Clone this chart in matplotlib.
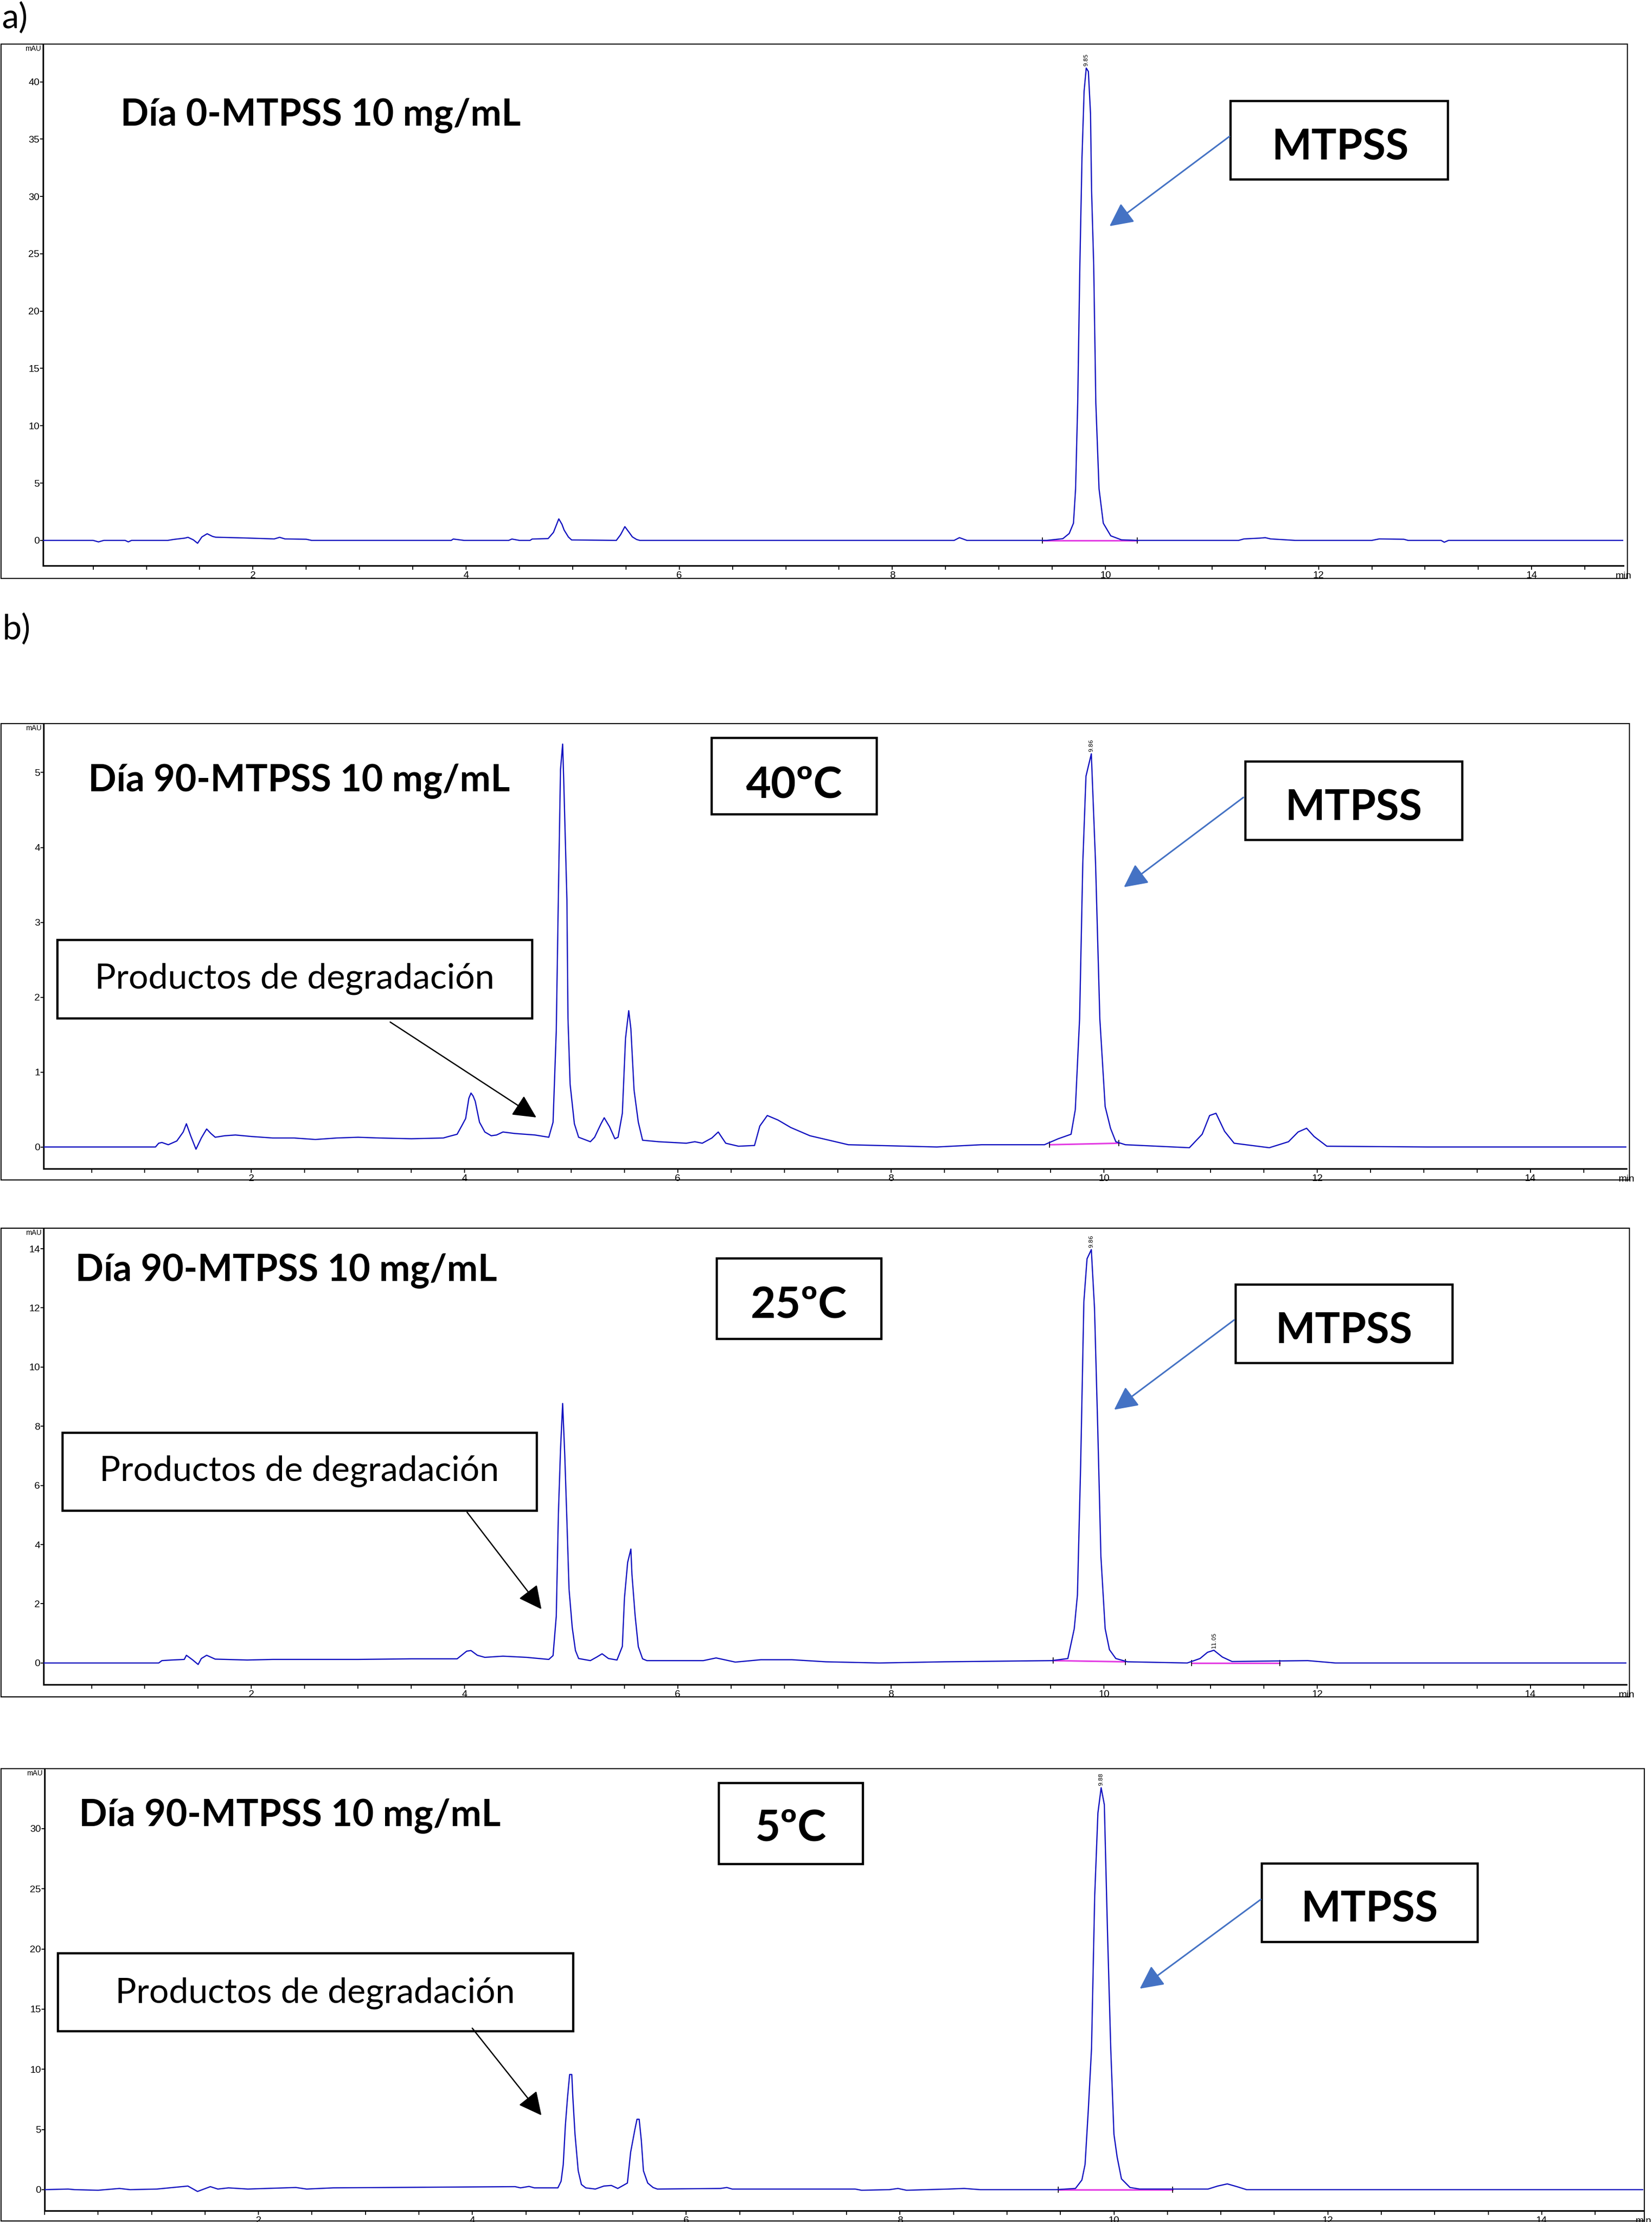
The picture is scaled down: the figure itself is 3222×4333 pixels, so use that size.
import matplotlib
matplotlib.use("Agg")
import matplotlib.pyplot as plt
from matplotlib.patches import Rectangle, FancyArrowPatch
from matplotlib.ticker import MultipleLocator

plt.rcParams['font.family'] = ['Lato', 'DejaVu Sans']

time_a = [0.03, 0.50, 0.55, 0.60, 0.80, 0.83, 0.86, 1.20, 1.26, 1.36, 1.39, 1.44, 1.48, 1.52,
          1.57, 1.62, 1.65, 1.90, 2.20, 2.25, 2.30, 2.50, 2.55, 3.86, 3.88, 3.98, 4.40, 4.43,
          4.50, 4.60, 4.62, 4.77, 4.82, 4.87, 4.90, 4.92, 4.96, 4.99, 5.41, 5.45, 5.49, 5.53,
          5.56, 5.60, 5.63, 8.58, 8.63, 8.70, 9.45, 9.60, 9.66, 9.70, 9.72, 9.74, 9.76, 9.78,
          9.80, 9.82, 9.84, 9.86, 9.87, 9.89, 9.91, 9.94, 9.98, 10.05, 10.15, 10.30, 11.25,
          11.30, 11.45, 11.50, 11.55, 11.78, 12.50, 12.57, 12.80, 12.84, 13.15, 13.18, 13.22, 14.86]
mau_a = [0.0, 0.0, -0.13, 0.0, 0.0, -0.13, 0.0, 0.0, 0.09, 0.2, 0.27, 0.05, -0.25, 0.3,
         0.58, 0.35, 0.28, 0.22, 0.13, 0.27, 0.13, 0.1, 0.0, 0.0, 0.12, 0.0, 0.0, 0.12,
         0.0, 0.0, 0.12, 0.16, 0.7, 1.88, 1.4, 0.9, 0.3, 0.04, 0.0, 0.5, 1.2, 0.7,
         0.31, 0.08, 0.0, 0.0, 0.24, 0.0, 0.0, 0.15, 0.6, 1.5, 4.5, 12.0, 24.0, 33.4,
         39.2, 41.2, 40.9, 37.2, 30.5, 24.0, 12.0, 4.5, 1.5, 0.4, 0.05, 0.0, 0.0,
         0.13, 0.2, 0.24, 0.13, 0.0, 0.0, 0.13, 0.1, 0.0, 0.0, -0.16, 0.0, 0.0]

time_40 = [0.05, 1.10, 1.13, 1.16, 1.22, 1.30, 1.36, 1.39, 1.43, 1.48, 1.53, 1.58, 1.62, 1.66,
           1.75, 1.85, 2.00, 2.20, 2.40, 2.60, 2.80, 3.00, 3.20, 3.50, 3.80, 3.85, 3.93, 3.98,
           4.01, 4.04, 4.06, 4.08, 4.10, 4.14, 4.19, 4.25, 4.30, 4.36, 4.47, 4.66, 4.79, 4.83,
           4.86, 4.88, 4.90, 4.92, 4.93, 4.96, 4.97, 4.99, 5.03, 5.07, 5.18, 5.22, 5.28, 5.31,
           5.36, 5.41, 5.44, 5.48, 5.51, 5.54, 5.56, 5.59, 5.63, 5.67, 5.82, 6.08, 6.16, 6.23,
           6.32, 6.38, 6.45, 6.57, 6.72, 6.77, 6.84, 6.94, 7.06, 7.24, 7.42, 7.60, 8.43, 8.85,
           9.44, 9.57, 9.69, 9.73, 9.77, 9.80, 9.83, 9.88, 9.92, 9.96, 10.01, 10.06, 10.11,
           10.20, 10.80, 10.92, 10.99, 11.05, 11.13, 11.22, 11.55, 11.73, 11.82, 11.90, 11.97,
           12.09, 13.03, 14.90]
mau_40 = [0.0, 0.0, 0.05, 0.06, 0.03, 0.08, 0.2, 0.31, 0.15, -0.03, 0.12, 0.24, 0.18, 0.13,
          0.15, 0.16, 0.14, 0.12, 0.12, 0.1, 0.12, 0.13, 0.12, 0.11, 0.12, 0.14, 0.17, 0.3,
          0.38, 0.65, 0.72, 0.68, 0.61, 0.33, 0.2, 0.15, 0.16, 0.2, 0.18, 0.16, 0.13, 0.33,
          1.55, 3.37, 5.04, 5.38, 4.9, 3.3, 1.72, 0.84, 0.31, 0.13, 0.07, 0.13, 0.31, 0.39,
          0.27, 0.11, 0.13, 0.45, 1.45, 1.82, 1.58, 0.76, 0.33, 0.09, 0.07, 0.05, 0.07, 0.05,
          0.12, 0.2, 0.05, 0.01, 0.02, 0.28, 0.42, 0.36, 0.26, 0.15, 0.09, 0.03, 0.0, 0.03,
          0.03, 0.11, 0.17, 0.5, 1.71, 3.79, 4.95, 5.25, 3.79, 1.71, 0.54, 0.25, 0.07,
          0.03, -0.01, 0.17, 0.42, 0.45, 0.21, 0.05, -0.01, 0.07, 0.2, 0.25, 0.14,
          0.01, 0.0, 0.0]

time_25 = [0.05, 1.13, 1.16, 1.25, 1.37, 1.39, 1.45, 1.50, 1.53, 1.58, 1.66, 1.96, 2.20, 3.00,
           3.50, 3.93, 4.02, 4.06, 4.12, 4.19, 4.36, 4.58, 4.79, 4.83, 4.86, 4.88, 4.90, 4.92,
           4.94, 4.96, 4.98, 5.01, 5.04, 5.07, 5.18, 5.24, 5.29, 5.35, 5.43, 5.48, 5.50, 5.53,
           5.56, 5.57, 5.60, 5.63, 5.67, 5.71, 6.24, 6.36, 6.54, 6.78, 7.07, 7.39, 7.89, 8.50,
           9.51, 9.66, 9.72, 9.75, 9.78, 9.81, 9.84, 9.88, 9.91, 9.94, 9.97, 10.01, 10.05,
           10.11, 10.22, 10.78, 10.90, 10.97, 11.03, 11.11, 11.20, 11.91, 12.17, 14.90]
mau_25 = [0.0, 0.0, 0.08, 0.1, 0.12, 0.26, 0.1, -0.05, 0.15, 0.26, 0.13, 0.1, 0.12, 0.12,
          0.14, 0.14, 0.40, 0.42, 0.26, 0.19, 0.23, 0.19, 0.12, 0.25, 1.58, 5.04, 7.2, 8.77,
          7.0, 4.8, 2.5, 1.2, 0.42, 0.15, 0.08, 0.20, 0.31, 0.15, 0.1, 0.56, 2.2, 3.4,
          3.85, 3.0, 1.6, 0.55, 0.14, 0.08, 0.08, 0.17, 0.03, 0.11, 0.11, 0.04, 0.0, 0.04,
          0.08, 0.15, 1.16, 2.3, 6.7, 12.2, 13.66, 13.97, 12.0, 8.0, 3.6, 1.16, 0.45,
          0.15, 0.04, 0.0, 0.15, 0.36, 0.43, 0.2, 0.05, 0.08, 0.0, 0.0]

time_5 = [0.0, 0.22, 0.28, 0.50, 0.70, 0.80, 1.05, 1.34, 1.43, 1.55, 1.62, 1.72, 1.90, 2.35,
          2.45, 2.70, 4.40, 4.45, 4.53, 4.58, 4.80, 4.83, 4.85, 4.87, 4.89, 4.91, 4.93, 4.94,
          4.96, 4.99, 5.02, 5.06, 5.15, 5.23, 5.30, 5.36, 5.45, 5.48, 5.52, 5.54, 5.56, 5.58,
          5.60, 5.64, 5.69, 5.73, 6.32, 6.38, 6.43, 7.58, 7.64, 7.90, 7.98, 8.06, 8.45, 8.60,
          8.75, 9.46, 9.64, 9.70, 9.73, 9.76, 9.79, 9.82, 9.85, 9.88, 9.91, 9.94, 9.97, 10.00,
          10.03, 10.07, 10.15, 10.24, 10.88, 10.97, 11.06, 11.15, 11.24, 14.95]
mau_5 = [0.0, 0.05, 0.0, -0.05, 0.1, 0.0, 0.05, 0.3, -0.15, 0.25, 0.05, 0.15, 0.05, 0.18,
         0.05, 0.15, 0.25, 0.15, 0.27, 0.15, 0.15, 0.7, 2.08, 5.37, 7.66, 9.57, 9.57, 7.66,
         4.6, 1.57, 0.43, 0.15, 0.05, 0.3, 0.35, 0.1, 0.55, 3.1, 5.0, 5.85, 5.85, 4.1,
         1.57, 0.55, 0.18, 0.05, 0.1, 0.18, 0.05, 0.05, -0.05, 0.0, 0.1, -0.05, 0.05, 0.1,
         0.0, 0.0, 0.1, 0.8, 2.1, 6.6, 11.7, 24.4, 31.3, 33.4, 32.0, 21.3, 11.7, 4.6,
         2.7, 0.9, 0.18, 0.05, 0.05, 0.3, 0.48, 0.25, 0.0, 0.0]

# lineas base de integracion (t inicio, y inicio, t fin, y fin)
integ_a = [(9.41, 0.0, 10.30, 0.0)]
integ_40 = [(9.49, 0.03, 10.14, 0.05)]
integ_25 = [(9.52, 0.08, 10.20, 0.04), (10.82, 0.0, 11.65, 0.0)]
integ_5 = [(9.48, 0.0, 10.55, 0.0)]

# etiquetas de tiempo de retencion (t, altura, texto)
rt_a = [(9.82, 41.2, "9.85")]
rt_40 = [(9.88, 5.25, "9.86")]
rt_25 = [(9.88, 13.97, "9.86"), (11.03, 0.43, "11.05")]
rt_5 = [(9.88, 33.4, "9.88")]

yticks_a = list(range(0, 41, 5))
yticks_40 = list(range(0, 6, 1))
yticks_25 = list(range(0, 15, 2))
yticks_5 = list(range(0, 31, 5))
xticks = [2, 4, 6, 8, 10, 12, 14]

W, H = 3223, 4333


def fx(x):
    return x / W


def fy(y):
    return 1 - y / H


fig = plt.figure(figsize=(W / 100, H / 100), dpi=100)


def panel(frame, box, xlim, ylim, t, v, yticks, integ, rts):
    # marco exterior
    fig.add_artist(Rectangle((fx(frame[0]), fy(frame[3])), fx(frame[2] - frame[0]),
                             (frame[3] - frame[1]) / H, transform=fig.transFigure,
                             fill=False, edgecolor='black', lw=1.5, zorder=4))
    ax = fig.add_axes([fx(box[0]), fy(box[3]), fx(box[2] - box[0]), (box[3] - box[1]) / H])
    ax.plot(t, v, color='#1010C0', lw=1.7, zorder=3)
    for t0, y0, t1, y1 in integ:
        ax.plot([t0, t1], [y0, y1], color='#E33CE3', lw=2.2, zorder=2)
        ax.plot([t0, t1], [y0, y1], ls='none', marker='|', ms=9, mew=1.2, color='black', zorder=2)
    for tr, hr, lab in rts:
        ax.annotate(lab, xy=(tr, hr), xytext=(0, 3), textcoords='offset points', rotation=90,
                    ha='center', va='bottom', fontsize=8, family='DejaVu Sans')
    ax.set_xlim(*xlim)
    ax.set_ylim(*ylim)
    ax.set_xticks(xticks)
    ax.xaxis.set_minor_locator(MultipleLocator(0.5))
    ax.set_yticks(yticks)
    for s in ['top', 'right']:
        ax.spines[s].set_visible(False)
    for s in ['left', 'bottom']:
        ax.spines[s].set_linewidth(2.2)
    ax.tick_params(axis='x', which='both', direction='out', length=6, width=1.3, pad=2)
    ax.tick_params(axis='y', direction='out', length=4, width=1.3, pad=1)
    for lab in ax.get_xticklabels() + ax.get_yticklabels():
        lab.set_fontfamily('Liberation Sans')
        lab.set_fontsize(14)
    ax.annotate('mAU', xy=(0, 1), xycoords='axes fraction', xytext=(-3, 0),
                textcoords='offset points', ha='right', va='top', fontsize=10,
                family='Liberation Sans')
    ax.annotate('min', xy=(1, 0), xycoords='axes fraction', xytext=(0, -9),
                textcoords='offset points', ha='center', va='top', fontsize=14,
                family='Liberation Sans')
    return ax


def caja(x0, y0, x1, y1, texto, xb, yb, size, weight):
    fig.add_artist(Rectangle((fx(x0), fy(y1)), fx(x1 - x0), (y1 - y0) / H,
                             transform=fig.transFigure, facecolor='white',
                             edgecolor='black', lw=3.2, zorder=5))
    fig.text(fx(xb), fy(yb), texto, ha='center', va='baseline', fontsize=size,
             fontweight=weight, zorder=6)


def flecha(x0, y0, x1, y1, color, lw):
    fig.add_artist(FancyArrowPatch((fx(x0), fy(y0)), (fx(x1), fy(y1)),
                                   transform=fig.transFigure,
                                   arrowstyle='-|>,head_length=28,head_width=14',
                                   color=color, lw=lw, shrinkA=0, shrinkB=0, zorder=6))


azul = '#4472C4'

# a) Dia 0
fig.text(fx(4), fy(55), 'a)', fontsize=48, va='baseline', ha='left')
panel((2, 86, 3174, 1128), (84, 88, 3166, 1103), (0.03, 14.86), (-2.2, 43.2),
      time_a, mau_a, yticks_a, integ_a, rt_a)
fig.text(fx(235), fy(244), 'Día 0-MTPSS 10 mg/mL', fontsize=52, fontweight='bold', va='baseline')
caja(2400, 197, 2824, 350, 'MTPSS', 2614, 312, 59, 'bold')
flecha(2398, 266, 2164, 441, azul, 2.2)

# b) Dia 90
fig.text(fx(4), fy(1247), 'b)', fontsize=48, va='baseline', ha='left')

panel((2, 1411, 3178, 2301), (85, 1413, 3172, 2279), (0.05, 14.9), (-0.29, 5.64),
      time_40, mau_40, yticks_40, integ_40, rt_40)
fig.text(fx(172), fy(1542), 'Día 90-MTPSS 10 mg/mL', fontsize=52, fontweight='bold', va='baseline')
caja(1388, 1439, 1710, 1588, '40ºC', 1549, 1556, 61, 'bold')
caja(2429, 1485, 2852, 1638, 'MTPSS', 2640, 1599, 59, 'bold')
flecha(2425, 1555, 2192, 1730, azul, 2.2)
caja(112, 1833, 1038, 1986, 'Productos de degradación', 575, 1928, 49, 'normal')
flecha(761, 1993, 1046, 2179, 'black', 1.8)

panel((2, 2395, 3178, 3309), (85, 2397, 3172, 3285), (0.05, 14.9), (-0.73, 14.66),
      time_25, mau_25, yticks_25, integ_25, rt_25)
fig.text(fx(147), fy(2497), 'Día 90-MTPSS 10 mg/mL', fontsize=52, fontweight='bold', va='baseline')
caja(1398, 2454, 1719, 2611, '25ºC', 1558, 2570, 61, 'bold')
caja(2410, 2505, 2833, 2658, 'MTPSS', 2621, 2620, 59, 'bold')
flecha(2407, 2574, 2173, 2749, azul, 2.2)
caja(122, 2794, 1047, 2946, 'Productos de degradación', 584, 2888, 49, 'normal')
flecha(911, 2949, 1056, 3138, 'black', 1.8)

panel((2, 3449, 3207, 4331), (87, 3451, 3205, 4311), (0.0, 14.95), (-1.75, 34.9),
      time_5, mau_5, yticks_5, integ_5, rt_5)
fig.text(fx(154), fy(3560), 'Día 90-MTPSS 10 mg/mL', fontsize=52, fontweight='bold', va='baseline')
caja(1402, 3477, 1683, 3635, '5ºC', 1542, 3590, 61, 'bold')
caja(2461, 3634, 2882, 3787, 'MTPSS', 2671, 3748, 59, 'bold')
flecha(2459, 3704, 2223, 3878, azul, 2.2)
caja(113, 3809, 1118, 3961, 'Productos de degradación', 615, 3905, 49, 'normal')
flecha(921, 3955, 1056, 4125, 'black', 1.8)

fig.savefig('out.png', dpi=100)
